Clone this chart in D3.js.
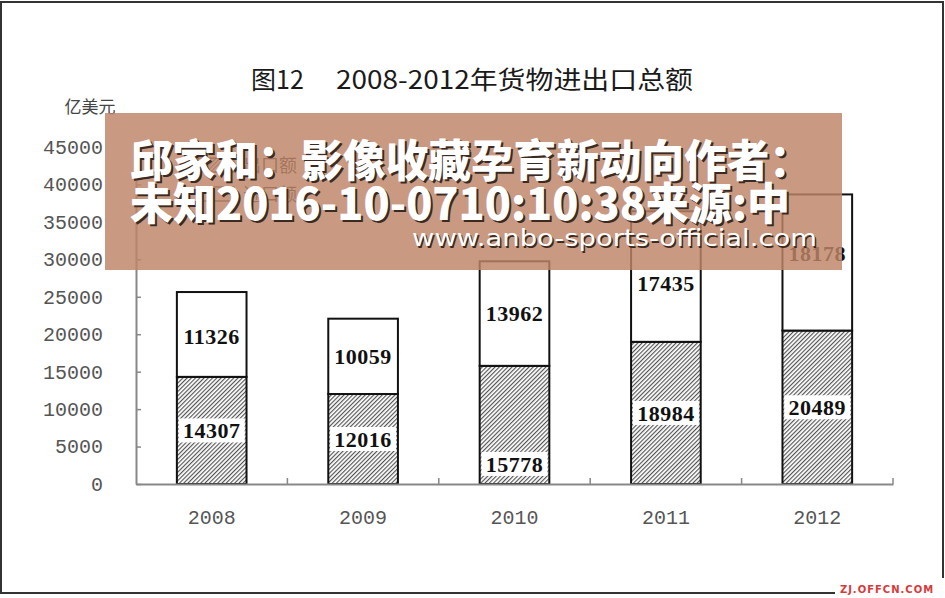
<!DOCTYPE html>
<html><head><meta charset="utf-8">
<script src="https://cdn.jsdelivr.net/npm/d3@7"></script>
<style>html,body{margin:0;padding:0;background:#fff;}svg{display:block;}</style>
</head><body>
<script>
const years = ["2008","2009","2010","2011","2012"];
const exportVals = [14307, 12016, 15778, 18984, 20489];
const importVals = [11326, 10059, 13962, 17435, 18178];
const yTicks = [0,5000,10000,15000,20000,25000,30000,35000,40000,45000];
const legendLabels = ["出口额","进口额"];
const titleLead = "图12";
const titleMain = "2008-2012年货物进出口总额";
const unitLabel = "亿美元";
const bannerLine1 = "邱家和：影像收藏孕育新动向作者：";
const bannerLine2 = "未知2016-10-0710:10:38来源:中";
const bannerUrl = "www.anbo-sports-official.com";
const watermark = "ZJ.OFFCN.COM";

const W = 945, H = 598;
const svg = d3.select("body").append("svg").attr("width", W).attr("height", H);
svg.append("rect").attr("width", W).attr("height", H).attr("fill", "#fff");

const defs = svg.append("defs");
const pat = defs.append("pattern").attr("id","hatch").attr("patternUnits","userSpaceOnUse")
  .attr("width",3).attr("height",3).attr("patternTransform","rotate(45)");
pat.append("rect").attr("width",3).attr("height",3).attr("fill","#fff");
pat.append("line").attr("x1",0.6).attr("y1",0).attr("x2",0.6).attr("y2",3)
  .attr("stroke","#4a4a4a").attr("stroke-width",1.1);

const data = years.map((y,i)=>({year:y, export:exportVals[i], import:importVals[i]}));
const stack = d3.stack().keys(["export","import"])(data);

const x = d3.scaleBand().domain(years).range([136, 893]).paddingInner(0.54).paddingOuter(0.27);
const y = d3.scaleLinear().domain([0, 45000]).range([484, 147]);

// title
const title = svg.append("text").attr("y", 89).attr("font-family","'Noto Sans CJK SC'")
  .attr("font-size", 25).attr("fill","#1a1a1a");
title.append("tspan").attr("x", 251).text(titleLead);
title.append("tspan").attr("x", 336).attr("textLength", 357).attr("lengthAdjust","spacingAndGlyphs").text(titleMain);

// unit
svg.append("text").attr("x", 90).attr("y", 113).attr("text-anchor","middle")
  .attr("font-family","'Noto Sans CJK SC'").attr("font-size", 17).attr("fill","#444").text(unitLabel);

// bars
const colors = {export:"url(#hatch)", import:"#fff"};
stack.forEach(layer=>{
  svg.append("g").selectAll("rect").data(layer).join("rect")
    .attr("x", d=>x(d.data.year)).attr("width", x.bandwidth())
    .attr("y", d=>y(d[1])).attr("height", d=>y(d[0])-y(d[1]))
    .attr("fill", colors[layer.key]).attr("stroke","#111").attr("stroke-width",2);
});

// value labels
const nudge = {"2010-export": 39, "2011-import": 7, "2012-import": -9, "2008-import": 2};
stack.forEach(layer=>{
  layer.forEach(d=>{
    const cx = x(d.data.year) + x.bandwidth()/2;
    const cy = (y(d[0])+y(d[1]))/2 + (nudge[d.data.year+"-"+layer.key]||0);
    const val = d.data[layer.key];
    if (layer.key === "export") {
      svg.append("rect").attr("x", cx-33).attr("y", cy-12).attr("width", 66).attr("height", 24).attr("fill","#fff");
    }
    svg.append("text").attr("x", cx).attr("y", cy).attr("dy","0.35em").attr("text-anchor","middle")
      .attr("font-family","'Liberation Serif'").attr("font-weight","bold").attr("font-size", 22)
      .attr("fill","#111").attr("letter-spacing", 0.5).text(val);
  });
});

// y axis
const yAxis = svg.append("g").attr("transform","translate(136,0)")
  .call(d3.axisLeft(y).tickValues(yTicks).tickFormat(d3.format("d")).tickSizeInner(-5).tickSizeOuter(0).tickPadding(33));
yAxis.select(".domain").attr("stroke","#888").attr("stroke-width",2);
yAxis.selectAll(".tick line").attr("stroke","#888").attr("stroke-width",1.5);
yAxis.selectAll("text").attr("font-family","'Liberation Mono'").attr("font-size",20).attr("fill","#555");

// x axis
const xAxis = svg.append("g").attr("transform","translate(0,484)")
  .call(d3.axisBottom(x).tickSize(0).tickPadding(26));
xAxis.select(".domain").attr("stroke","#888").attr("stroke-width",2);
xAxis.selectAll("text").attr("font-family","'Liberation Mono'").attr("font-size",20).attr("fill","#555");
const bounds = years.map(d=>x(d)+x.bandwidth()/2+x.step()/2);
svg.append("g").selectAll("line").data(bounds).join("line")
  .attr("x1", d=>d).attr("x2", d=>d).attr("y1", 484).attr("y2", 478)
  .attr("stroke","#888").attr("stroke-width",1.5);

// legend (mostly hidden under the banner, as in the reference)
const lg = svg.append("g");
legendLabels.forEach((t,i)=>{
  lg.append("rect").attr("x",198).attr("y",158+i*29).attr("width",36).attr("height",14)
    .attr("fill", i===0?"url(#hatch)":"#fff").attr("stroke","#111").attr("stroke-width",1.2);
  lg.append("text").attr("x",243).attr("y",172+i*29).attr("font-family","'Noto Sans CJK SC'")
    .attr("font-size",18).attr("fill","#222").text(t);
});

// banner overlay
svg.append("rect").attr("x",105).attr("y",113).attr("width",737).attr("height",157)
  .attr("fill","rgb(190,134,104)").attr("opacity",0.83);
function shadowText(txt, xx, yy, size, weight, family, len, dx, dy) {
  [["#3a2a22", dx, dy], ["#fff", 0, 0]].forEach(([c,ox,oy])=>{
    svg.append("text").attr("x", xx+ox).attr("y", yy+oy)
      .attr("font-family", family).attr("font-weight", weight).attr("font-size", size)
      .attr("fill", c).attr("textLength", len).attr("lengthAdjust","spacingAndGlyphs").text(txt);
  });
}
shadowText(bannerLine1, 130, 177, 44, 900, "'Noto Sans CJK SC'", 682, 2, 2);
shadowText(bannerLine2, 130, 220, 44, 900, "'Noto Sans CJK SC'", 660, 2, 2);
shadowText(bannerUrl, 412, 246, 23, 400, "'DejaVu Sans'", 405, 1.5, 1.5);

// frame
svg.append("rect").attr("x",1).attr("y",2).attr("width",942).attr("height",591)
  .attr("fill","none").attr("stroke","#333").attr("stroke-width",2);
svg.append("rect").attr("x",835).attr("y",578).attr("width",110).attr("height",20).attr("fill","#fff");
svg.append("text").attr("x",887).attr("y",593).attr("text-anchor","middle")
  .attr("font-family","'DejaVu Sans'").attr("font-weight","bold").attr("font-size",10)
  .attr("letter-spacing",1).attr("fill","#d83a3a").text(watermark);
</script>
</body></html>
